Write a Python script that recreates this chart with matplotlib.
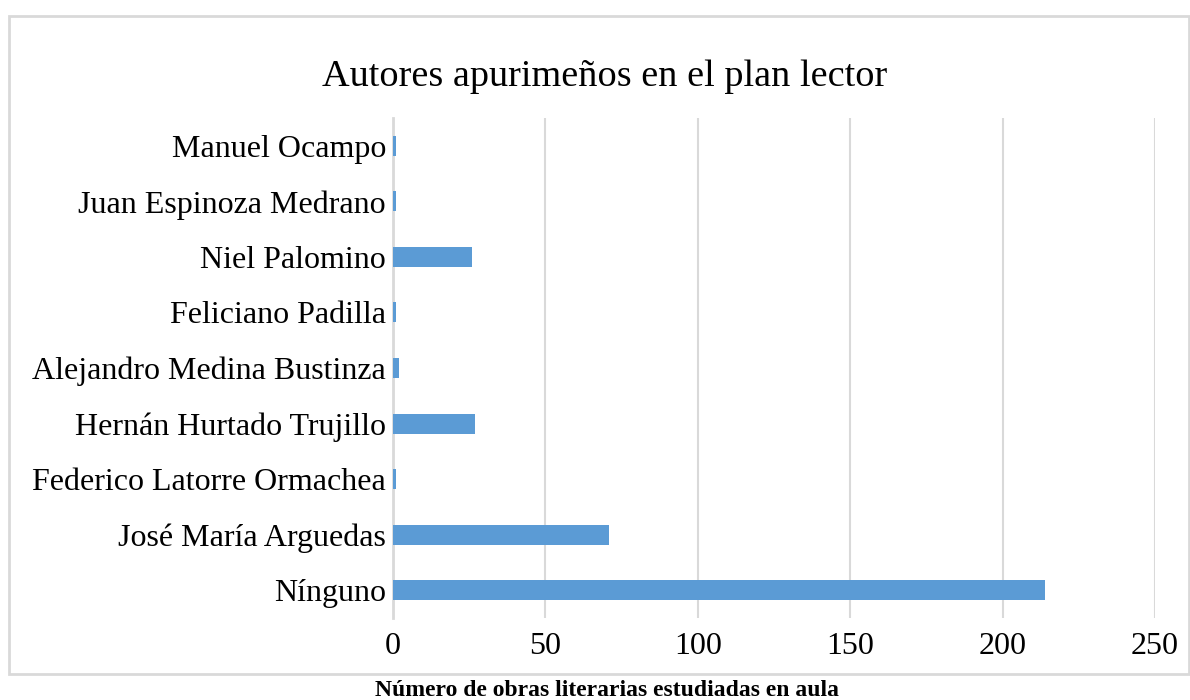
import matplotlib
matplotlib.use("Agg")
from matplotlib import pyplot as plt
from matplotlib.patches import Rectangle

# -- Data ---------------------------------------------------------------------

autores = [
    "Nínguno",
    "José María Arguedas",
    "Federico Latorre Ormachea",
    "Hernán Hurtado Trujillo",
    "Alejandro Medina Bustinza",
    "Feliciano Padilla",
    "Niel Palomino",
    "Juan Espinoza Medrano",
    "Manuel Ocampo",
]
obras = [214, 71, 1, 27, 2, 1, 26, 1, 1]
xticks = [0, 50, 100, 150, 200, 250]

BLUE = "#5b9bd5"
GRID = "#d9d9d9"

plt.rcParams["font.family"] = ["Liberation Serif", "DejaVu Serif"]

fig = plt.figure(figsize=(11.9, 7.0), dpi=100)

# outer chart border
fig.patches.append(Rectangle(
    (9 / 1190, 1 - 674 / 700), (1189 - 9) / 1190, (674 - 16) / 700,
    transform=fig.transFigure, fill=False, edgecolor=GRID, linewidth=2))

ax = fig.add_axes([393 / 1190, 1 - 618 / 700, (1155 - 393) / 1190, 500 / 700])

ax.barh(range(len(autores)), obras, height=0.36, color=BLUE, zorder=3)

ax.set_xlim(0, 250)
ax.set_ylim(-0.5, len(autores) - 0.5)
ax.set_xticks(xticks)
ax.set_yticks(range(len(autores)))
ax.set_yticklabels(autores)
ax.tick_params(axis="both", length=0, labelsize=23, colors="#000000")
ax.tick_params(axis="x", pad=10)
ax.tick_params(axis="y", pad=5)

ax.grid(axis="x", color=GRID, linewidth=1.5, zorder=0)
for s in ["top", "right", "bottom"]:
    ax.spines[s].set_visible(False)
ax.spines["left"].set_color(GRID)
ax.spines["left"].set_linewidth(2)
ax.spines["left"].set_zorder(2)

fig.text(0.508, 1 - 77 / 700, "Autores apurimeños en el plan lector",
         ha="center", va="center", fontsize=27.5)
fig.text(0.51, 1 - 691 / 700, "Número de obras literarias estudiadas en aula",
         ha="center", va="center", fontsize=17, fontweight="bold")

fig.savefig("out.png", dpi=100)
